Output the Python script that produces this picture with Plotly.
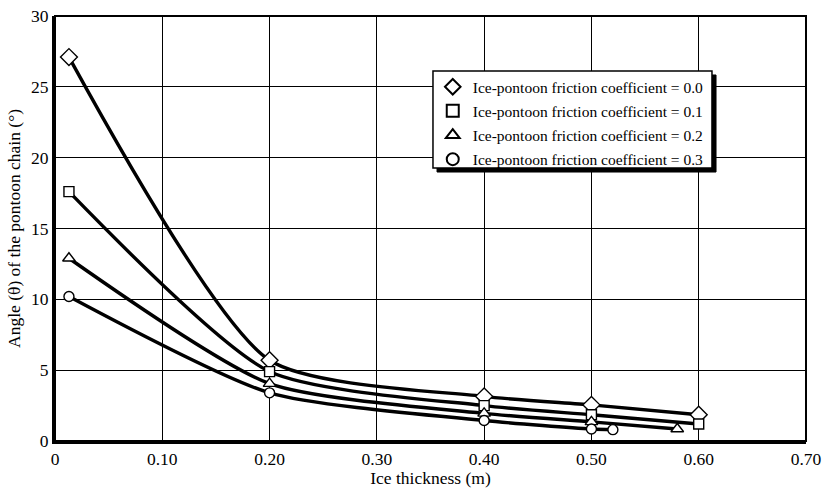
import plotly.graph_objects as go

# ---- data ----
x_tick_vals = [0, 0.1, 0.2, 0.3, 0.4, 0.5, 0.6, 0.7]
x_tick_text = ["0", "0.10", "0.20", "0.30", "0.40", "0.50", "0.60", "0.70"]
y_tick_vals = [0, 5, 10, 15, 20, 25, 30]

series_names = [
    "Ice-pontoon friction coefficient = 0.0",
    "Ice-pontoon friction coefficient = 0.1",
    "Ice-pontoon friction coefficient = 0.2",
    "Ice-pontoon friction coefficient = 0.3",
]
x_mu00 = [0.013, 0.2, 0.4, 0.5, 0.6]
y_mu00 = [27.1, 5.7, 3.15, 2.55, 1.85]
x_mu01 = [0.013, 0.2, 0.4, 0.5, 0.6]
y_mu01 = [17.6, 4.9, 2.5, 1.85, 1.2]
x_mu02 = [0.013, 0.2, 0.4, 0.5, 0.58]
y_mu02 = [12.9, 4.05, 1.95, 1.35, 0.85]
x_mu03 = [0.013, 0.2, 0.4, 0.5, 0.52]
y_mu03 = [10.2, 3.4, 1.45, 0.85, 0.8]

xs = [x_mu00, x_mu01, x_mu02, x_mu03]
ys = [y_mu00, y_mu01, y_mu02, y_mu03]
symbols = ["diamond", "square", "triangle-up", "circle"]
sizes = [13, 10, 11, 10]

FONT = "Liberation Serif, Times New Roman, serif"
AX_SIZE = 17.5
LEG_SIZE = 15.5

fig = go.Figure()

# smooth curves first (under markers)
for x, y in zip(xs, ys):
    fig.add_trace(go.Scatter(
        x=x, y=y, mode="lines", showlegend=False, hoverinfo="skip",
        line=dict(color="black", width=3.4, shape="spline", smoothing=0.65),
    ))

# markers (white filled so lines are hidden under them)
for i, (x, y) in enumerate(zip(xs, ys)):
    fig.add_trace(go.Scatter(
        x=x, y=y, mode="markers", name=series_names[i],
        legendgroup=f"g{i}",
        marker=dict(symbol=symbols[i], size=sizes[i],
                    color="white", line=dict(color="black", width=1.4)),
    ))

fig.update_layout(
    width=826, height=488, autosize=False,
    margin=dict(l=55, r=20, t=16, b=47),
    plot_bgcolor="white", paper_bgcolor="white",
    font=dict(family=FONT, size=AX_SIZE, color="black"),
    showlegend=True,
    legend=dict(
        x=0.503, y=0.8726, xanchor="left", yanchor="top",
        bgcolor="rgba(0,0,0,0)", borderwidth=0,
        font=dict(family=FONT, size=LEG_SIZE, color="black"),
        tracegroupgap=1, itemsizing="constant",
    ),
    xaxis=dict(
        range=[0, 0.7], tickvals=x_tick_vals, ticktext=x_tick_text,
        showgrid=True, gridcolor="black", gridwidth=1,
        showline=True, linecolor="black", linewidth=3,
        zeroline=False, ticks="", automargin=False,
        tickfont=dict(family=FONT, size=AX_SIZE),
        title=dict(text="Ice thickness (m)", font=dict(family=FONT, size=AX_SIZE), standoff=4),
    ),
    yaxis=dict(
        range=[0, 30], tickvals=y_tick_vals,
        showgrid=True, gridcolor="black", gridwidth=1,
        showline=True, linecolor="black", linewidth=3,
        zeroline=False, ticks="", automargin=False,
        tickfont=dict(family=FONT, size=AX_SIZE),
        title=dict(text="Angle (θ) of the pontoon chain (°)", font=dict(family=FONT, size=AX_SIZE), standoff=6),
    ),
    shapes=[
        # plot frame (top/right thinner than the axes)
        dict(type="rect", xref="paper", yref="paper", x0=0, y0=0, x1=1, y1=1,
             line=dict(color="black", width=2), layer="above"),
        # legend shadow
        dict(type="rect", xref="paper", yref="paper", x0=0.5087, y0=0.6329, x1=0.8802, y1=0.8612,
             line=dict(color="black", width=1), fillcolor="black", layer="above"),
        # legend box
        dict(type="rect", xref="paper", yref="paper", x0=0.5033, y0=0.6424, x1=0.8748, y1=0.8706,
             line=dict(color="black", width=1.5), fillcolor="white", layer="above"),
    ],
)

fig.write_html("out.html")
